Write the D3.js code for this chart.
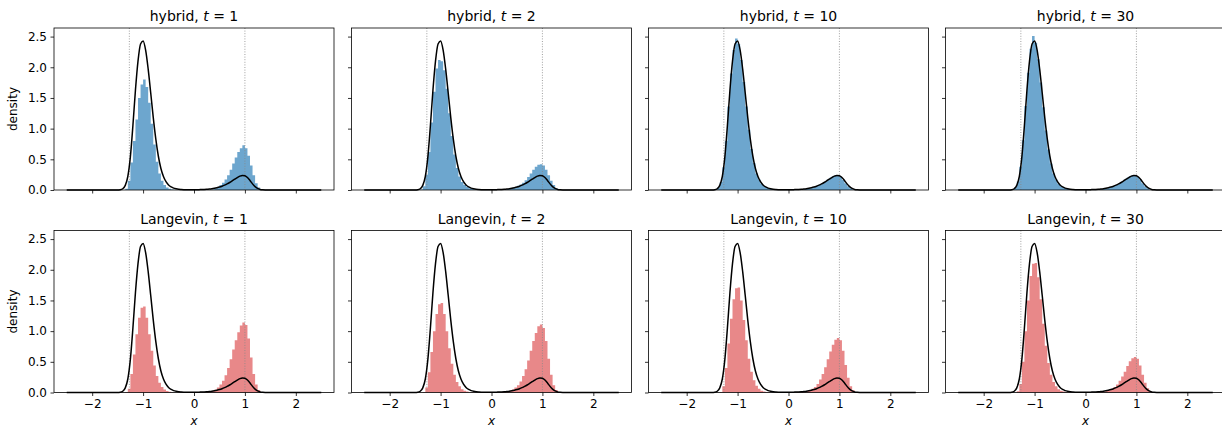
<!DOCTYPE html>
<html>
<head>
<meta charset="utf-8">
<script src="https://cdn.jsdelivr.net/npm/d3@7"></script>
<style>
  body { margin: 0; background: #fff; }
  svg { display: block; font-family: "DejaVu Sans", sans-serif; }
</style>
</head>
<body>
<div id="chart"></div>
<script>
// ---- data ----
const methods = ["hybrid", "Langevin"];
const times = [1, 2, 10, 30];
const xTicks = [-2, -1, 0, 1, 2];
const yTicks = [0, 0.5, 1, 1.5, 2, 2.5];
const markerLines = [-1.27, 1];
const yMax = 2.64;

// target density (black line)
const densityX = [-2.5, -1.5, -1.45, -1.4, -1.35, -1.3, -1.25, -1.2, -1.15, -1.1, -1.05, -1.0,
  -0.95, -0.9, -0.85, -0.8, -0.75, -0.7, -0.65, -0.6, -0.55, -0.5, -0.45, -0.4, -0.35, -0.3,
  -0.25, -0.2, -0.1, 0, 0.1, 0.2, 0.25, 0.3, 0.35, 0.4, 0.45, 0.5, 0.55, 0.6, 0.65, 0.7, 0.75,
  0.8, 0.85, 0.9, 0.95, 1.0, 1.05, 1.1, 1.15, 1.2, 1.25, 1.3, 1.35, 1.4, 2.5];
const densityY = [0, 0.001, 0.004, 0.02, 0.075, 0.22, 0.54, 1.05, 1.63, 2.10, 2.38, 2.43,
  2.28, 1.97, 1.58, 1.18, 0.83, 0.55, 0.35, 0.22, 0.135, 0.082, 0.05, 0.031, 0.02, 0.013,
  0.009, 0.006, 0.004, 0.004, 0.006, 0.009, 0.012, 0.016, 0.021, 0.028, 0.037, 0.048, 0.062, 0.079, 0.099, 0.122, 0.148,
  0.176, 0.203, 0.226, 0.238, 0.232, 0.203, 0.155, 0.10, 0.055, 0.025, 0.009, 0.003, 0.001, 0];

// histogram bins: 60 bins of width 0.05 starting at -1.5
const binStart = -1.5;
const binWidth = 0.05;

const hybridHeights = [
  [0, 0, 0, 0.02, 0.15, 0.45, 0.80, 1.15, 1.50, 1.72,
   1.80, 1.68, 1.42, 1.08, 0.74, 0.46, 0.27, 0.15, 0.08, 0.04,
   0.02, 0.01, 0.005, 0, 0, 0, 0, 0, 0, 0,
   0, 0, 0, 0, 0, 0.003, 0.005, 0.01, 0.03, 0.05,
   0.08, 0.12, 0.17, 0.24, 0.33, 0.43, 0.53, 0.62, 0.68, 0.73,
   0.68, 0.56, 0.40, 0.24, 0.11, 0.04, 0.01, 0, 0, 0],
  [0, 0, 0.01, 0.06, 0.25, 0.62, 1.10, 1.60, 1.98, 2.12,
   2.10, 1.95, 1.65, 1.25, 0.88, 0.58, 0.36, 0.22, 0.13, 0.08,
   0.05, 0.03, 0.02, 0.01, 0.006, 0.004, 0.003, 0.003, 0.002, 0.002,
   0.002, 0.003, 0.004, 0.005, 0.007, 0.01, 0.015, 0.02, 0.035, 0.05,
   0.07, 0.09, 0.12, 0.16, 0.21, 0.27, 0.33, 0.38, 0.41, 0.42,
   0.40, 0.33, 0.24, 0.15, 0.08, 0.03, 0.01, 0, 0, 0],
  [0.002, 0.01, 0.04, 0.13, 0.37, 0.80, 1.36, 1.90, 2.28, 2.47,
   2.38, 2.12, 1.76, 1.36, 0.98, 0.67, 0.44, 0.27, 0.17, 0.10,
   0.065, 0.04, 0.025, 0.016, 0.01, 0.007, 0.005, 0.004, 0.004, 0.004,
   0.004, 0.005, 0.006, 0.008, 0.01, 0.013, 0.017, 0.022, 0.03, 0.038,
   0.05, 0.065, 0.085, 0.11, 0.14, 0.17, 0.20, 0.225, 0.24, 0.245,
   0.22, 0.165, 0.11, 0.06, 0.028, 0.01, 0.004, 0.001, 0, 0],
  [0.002, 0.01, 0.045, 0.14, 0.38, 0.81, 1.37, 1.91, 2.30, 2.51,
   2.40, 2.13, 1.75, 1.35, 0.97, 0.66, 0.43, 0.27, 0.17, 0.10,
   0.06, 0.04, 0.025, 0.015, 0.01, 0.007, 0.005, 0.004, 0.003, 0.004,
   0.004, 0.005, 0.006, 0.008, 0.01, 0.013, 0.017, 0.022, 0.03, 0.04,
   0.05, 0.065, 0.085, 0.11, 0.14, 0.17, 0.20, 0.225, 0.24, 0.24,
   0.22, 0.17, 0.11, 0.06, 0.03, 0.01, 0.004, 0.001, 0, 0]
];

const langevinHeights = [
  [0, 0, 0, 0.01, 0.06, 0.30, 0.62, 0.95, 1.22, 1.38,
   1.40, 1.22, 0.95, 0.68, 0.44, 0.27, 0.16, 0.09, 0.05, 0.025,
   0.012, 0.005, 0.002, 0, 0, 0, 0, 0, 0, 0,
   0, 0, 0, 0.002, 0.005, 0.01, 0.015, 0.025, 0.045, 0.08,
   0.13, 0.19, 0.28, 0.40, 0.54, 0.70, 0.85, 0.98, 1.09, 1.14,
   1.10, 0.88, 0.57, 0.30, 0.13, 0.04, 0.01, 0, 0, 0],
  [0, 0, 0, 0.01, 0.08, 0.33, 0.66, 1.00, 1.28, 1.44,
   1.46, 1.28, 1.00, 0.72, 0.47, 0.29, 0.17, 0.10, 0.055, 0.03,
   0.015, 0.006, 0.003, 0.001, 0, 0, 0, 0, 0, 0,
   0, 0, 0.002, 0.004, 0.008, 0.012, 0.02, 0.03, 0.05, 0.08,
   0.12, 0.18, 0.27, 0.38, 0.52, 0.68, 0.84, 0.97, 1.08, 1.11,
   1.05, 0.84, 0.55, 0.29, 0.12, 0.04, 0.01, 0, 0, 0],
  [0, 0, 0, 0.01, 0.10, 0.40, 0.80, 1.20, 1.52, 1.70,
   1.71, 1.50, 1.18, 0.85, 0.55, 0.34, 0.20, 0.11, 0.06, 0.03,
   0.015, 0.007, 0.003, 0.001, 0, 0, 0, 0, 0, 0,
   0, 0, 0.002, 0.004, 0.005, 0.01, 0.015, 0.025, 0.04, 0.06,
   0.09, 0.14, 0.21, 0.30, 0.41, 0.54, 0.67, 0.78, 0.86, 0.89,
   0.85, 0.68, 0.45, 0.24, 0.10, 0.035, 0.01, 0, 0, 0],
  [0, 0, 0.002, 0.02, 0.14, 0.50, 1.00, 1.50, 1.90, 2.10,
   2.11, 1.88, 1.52, 1.12, 0.76, 0.48, 0.29, 0.17, 0.10, 0.055,
   0.03, 0.015, 0.008, 0.003, 0.001, 0, 0, 0, 0, 0,
   0, 0, 0.002, 0.003, 0.004, 0.005, 0.01, 0.015, 0.025, 0.04,
   0.06, 0.09, 0.13, 0.19, 0.26, 0.34, 0.43, 0.51, 0.56, 0.58,
   0.55, 0.44, 0.29, 0.16, 0.07, 0.025, 0.008, 0, 0, 0]
];

const histFills = ["#1f77b4", "#d62728"];
const histAlpha = [0.65, 0.55];

// ---- layout ----
var width = 1222, height = 428;
var colLeft = [54, 351.5, 648.5, 945.5];
var rowTop = [28, 230.5];
var panelW = 280;
var panelH = 162;
var tickFont = 12;

var svg = d3.select("#chart").append("svg")
  .attr("width", width)
  .attr("height", height);

var x = d3.scaleLinear().domain([-2.75, 2.75]).range([0, panelW]);
var y = d3.scaleLinear().domain([0, yMax]).range([panelH, 0]);

var fmtX = d => d3.format("d")(d).replace("-", "\u2212");
var fmtY = d3.format(".1f");

var histArea = d3.area()
  .curve(d3.curveStepAfter)
  .x(d => x(d.x))
  .y0(y(0))
  .y1(d => y(d.h));

var densityLine = d3.line()
  .curve(d3.curveMonotoneX)
  .x(d => x(d[0]))
  .y(d => y(d[1]));

var densityPts = densityX.map((v, i) => [v, densityY[i]]);

function styleAxis(a) {
  a.select(".domain").remove();
  a.attr("font-family", null).attr("font-size", null);
  a.selectAll(".tick line").attr("stroke", "#000").attr("stroke-width", 0.8);
  a.selectAll(".tick text").attr("fill", "#000").style("font-size", tickFont + "px");
}

methods.forEach((method, row) => {
  var heightsSet = row === 0 ? hybridHeights : langevinHeights;
  times.forEach((t, col) => {
    var g = svg.append("g")
      .attr("transform", `translate(${colLeft[col]},${rowTop[row]})`);

    // histogram as a stepped area
    var bins = heightsSet[col].map((h, k) => ({ x: binStart + k * binWidth, h: h }));
    bins.push({ x: binStart + bins.length * binWidth, h: 0 });
    g.append("path")
      .attr("d", histArea(bins))
      .attr("fill", histFills[row])
      .attr("fill-opacity", histAlpha[row]);

    // dotted reference lines
    markerLines.forEach(m => {
      g.append("line")
        .attr("x1", x(m)).attr("x2", x(m))
        .attr("y1", 0).attr("y2", panelH)
        .attr("stroke", "#888")
        .attr("stroke-width", 0.8)
        .attr("stroke-dasharray", "1,1.6");
    });

    // target density
    g.append("path")
      .attr("d", densityLine(densityPts))
      .attr("fill", "none")
      .attr("stroke", "#000")
      .attr("stroke-width", 1.5);

    // axes
    var xAxis = d3.axisBottom(x).tickValues(xTicks).tickSize(3.5).tickPadding(3.5)
      .tickFormat(row === 1 ? fmtX : "");
    g.append("g").attr("transform", `translate(0,${panelH})`).call(xAxis).call(styleAxis);

    var yAxis = d3.axisLeft(y).tickValues(yTicks).tickSize(3.5).tickPadding(3.5)
      .tickFormat(col === 0 ? fmtY : "");
    g.append("g").call(yAxis).call(styleAxis);

    // frame
    g.append("rect")
      .attr("width", panelW).attr("height", panelH)
      .attr("fill", "none")
      .attr("stroke", "#000")
      .attr("stroke-width", 0.8);

    // title
    var title = g.append("text")
      .attr("x", panelW / 2)
      .attr("y", -7)
      .attr("text-anchor", "middle")
      .attr("font-size", 14)
      .text(method + ", ");
    title.append("tspan").attr("font-style", "italic").text("t");
    title.append("tspan").text(" = " + t);

    if (col === 0) {
      svg.append("text")
        .attr("transform", `translate(17,${rowTop[row] + panelH / 2}) rotate(-90)`)
        .attr("text-anchor", "middle")
        .attr("font-size", tickFont)
        .text("density");
    }
    if (row === 1) {
      g.append("text")
        .attr("x", panelW / 2)
        .attr("y", panelH + 32.5)
        .attr("text-anchor", "middle")
        .attr("font-size", tickFont)
        .attr("font-style", "italic")
        .text("x");
    }
  });
});
</script>
</body>
</html>
